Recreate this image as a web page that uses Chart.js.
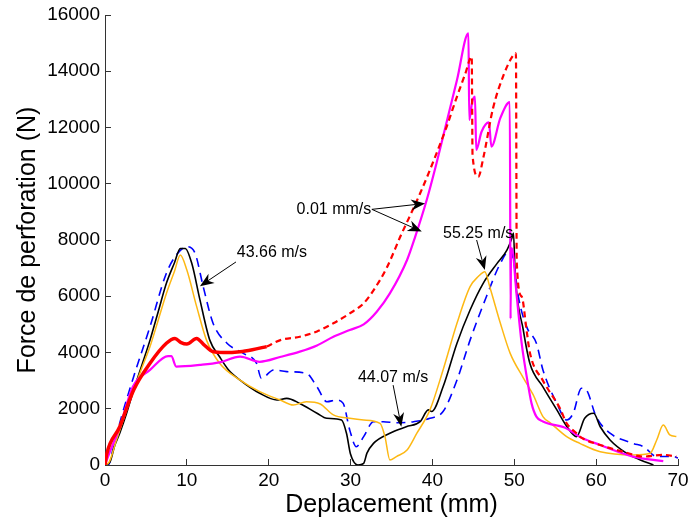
<!DOCTYPE html>
<html>
<head>
<meta charset="utf-8">
<script src="https://cdn.jsdelivr.net/npm/chart.js@4/dist/chart.umd.min.js"></script>
<style>
  html, body { margin: 0; padding: 0; background: #fff; }
  #wrap { width: 689px; height: 524px; }
</style>
</head>
<body>
<div id="wrap"><canvas id="myChart"></canvas></div>
<script>
// values (x in mm, y in N)
const xTicks = [0, 10, 20, 30, 40, 50, 60, 70];
const yTicks = [0, 2000, 4000, 6000, 8000, 10000, 12000, 14000, 16000];

const redSolidX = [0, 0.2, 1.8, 3.5, 5.5, 7.5, 8.55, 9.3, 10, 11.2, 12, 13.2, 14.5, 16.5, 18, 19.75];
const redSolidY = [0, 380, 1360, 2670, 3620, 4330, 4500, 4350, 4300, 4500, 4300, 4030, 4000, 4030, 4100, 4210];

const redDashX = [19.75, 21.5, 23.8, 25.9, 27.9, 29.9, 31.6, 33, 34.4, 36.2, 37.4, 38.5, 39.5, 40.5, 41.7,
  43, 44, 44.8, 44.9, 45.6, 46.2, 47.4, 48.7, 49.9, 50.2, 50.3, 50.9,
  51.5, 51.9, 53.5, 55.6, 56.4, 57.6, 58, 60.5, 63.3, 65.8, 68.2, 69.8];
const redDashY = [4210, 4450, 4560, 4750, 5040, 5390, 5750, 6300, 7000, 8200, 8950, 9660, 10350, 11080, 12000,
  13100, 13900, 14520, 11020, 10250, 10900, 12680, 13870, 14580, 14640, 7200, 5990,
  4800, 4000, 3000, 2000, 1480, 1130, 1010, 710, 470, 300, 360, 300];

const magentaX = [0, 0.5, 1.8, 3.4, 5.5, 7.7, 8.1, 8.7, 11.6, 14, 16.5, 18.9, 21.5, 23.8, 25.9,
  27.9, 29.9, 31.6, 33.2, 34.8, 36.9, 37.9, 39.3, 40.5, 41.7, 43, 44.4, 44.5, 44.85, 45.2,
  45.35, 46, 46.9, 47.2, 48.3, 49.45, 49.55, 49.6, 49.7, 50.3, 50.9, 51.6, 52.1, 52.7, 53.5,
  56.4, 58, 60.5, 64.5, 68.2];
const magentaY = [0, 400, 1350, 2780, 3380, 3870, 3870, 3500, 3560, 3650, 3850, 3670, 3850, 4030, 4250,
  4560, 4800, 5000, 5450, 6100, 7290, 8120, 9420, 10730, 12150, 13690, 15350, 12270, 12900, 13100,
  11200, 11850, 12180, 11320, 12340, 12900, 5200, 7700, 7700, 6000, 4330, 3000, 2200, 1720, 1550,
  1300, 1000, 710, 300, 140];

const yellowX = [0, 0.5, 1.4, 2.4, 3.5, 4.5, 5.5, 6.5, 7.5, 8.5, 9.2, 10, 11.2, 12.4, 14,
  16.5, 18.9, 21.4, 23, 24.6, 26.3, 27.9, 29.9, 31.6, 33.6, 34.2, 34.8, 35.6, 36.9, 38.1,
  39.7, 41.3, 43, 44.6, 45.6, 46.4, 47, 48.3, 49.5, 51.1, 52.3, 53.5, 54.4, 56.4, 58,
  60.5, 64.5, 66.6, 67.4, 68.2, 69, 69.8];
const yellowY = [0, 100, 890, 1750, 2670, 3450, 4210, 5150, 6100, 6900, 7470, 6930, 5630, 4440, 3620,
  3020, 2610, 2310, 2130, 2250, 2170, 1780, 1660, 1600, 1480, 1010, 180, 300, 530, 1130,
  1960, 3380, 5040, 6340, 6700, 6870, 6340, 5040, 3970, 3100, 2500, 1720, 1500, 1010, 770,
  470, 360, 420, 890, 1420, 1070, 1010];

const blackX = [0, 0.6, 1.2, 1.8, 2.6, 3.5, 4.5, 5.5, 6.5, 7.5, 8.5, 9.2, 9.8, 10.6, 11.6,
  12.8, 14, 15.1, 16.5, 18.9, 21, 22.2, 23.8, 25.9, 27.1, 28.9, 29.5, 30.0, 30.9, 31.6,
  32, 32.8, 34.8, 36.8, 38.5, 39.5, 39.9, 41.3, 43, 44.6, 46.2, 47.9, 49.1, 49.7, 49.9,
  50.1, 51.1, 51.9, 53.5, 55.2, 56.4, 57.6, 58.6, 59.7, 60.5, 61.7, 63.7, 65.4, 67];
const blackY = [0, 100, 700, 1130, 1800, 2670, 3550, 4440, 5450, 6460, 7200, 7700, 7700, 7170, 5870,
  4440, 3850, 3380, 3020, 2550, 2310, 2370, 2190, 1840, 1660, 1600, 1130, 380, 0, 60,
  420, 770, 1130, 1360, 1540, 1960, 1900, 2780, 4330, 5510, 6460, 7170, 7640, 8060, 8250,
  6820, 4800, 3620, 2780, 1960, 1380, 1010, 1660, 1840, 1360, 890, 420, 180, 0];

const blueX = [0, 0.4, 1, 2, 3.5, 5.5, 7.5, 8.8, 10, 11, 12, 13.2, 14.9, 16.9, 18.5,
  19.1, 20.6, 22.2, 24.6, 25.9, 27.1, 28.3, 29.1, 29.9, 30.7, 31.6, 32.8, 34, 35.6, 37.7,
  39.7, 41.3, 43, 44.6, 46.6, 48.3, 49.5, 49.9, 50.5, 51.5, 52.7, 53.5, 55.2, 56.4, 57.2,
  58.2, 58.8, 60, 61.7, 64.5, 65.8, 67.4, 69.4, 70];
const blueY = [0, 0, 600, 1700, 3140, 4920, 6820, 7500, 7760, 7530, 6340, 5040, 4330, 3970, 3620,
  3080, 3380, 3320, 3260, 2780, 2250, 2310, 2190, 1240, 650, 1010, 1540, 1540, 1500, 1540,
  1660, 1900, 3020, 4440, 5990, 7170, 7640, 7290, 5990, 4920, 4330, 3380, 2190, 1600, 1840,
  2730, 2670, 1720, 1130, 770, 650, 300, 300, 250];

// text labels with arrows, in data units
const notes = [
  { text: '43.66 m/s', x: 16.1, y: 7540, arrows: [[16.0, 7220, 11.6, 6360]] },
  { text: '0.01 mm/s', x: 23.4, y: 9070, arrows: [[32.6, 9090, 39.1, 9300], [32.6, 9090, 38.7, 8300]] },
  { text: '44.07 m/s', x: 30.9, y: 3110, arrows: [[35.2, 2840, 36.2, 1360]] },
  { text: '55.25 m/s', x: 41.3, y: 8230, arrows: [[45.4, 8000, 46.4, 6930]] }
];

const FONT = '"Liberation Sans", Arial, sans-serif';

function pts(xs, ys) {
  return xs.map((x, i) => ({ x: x, y: ys[i] }));
}

function line(xs, ys, color, width, dash) {
  return {
    data: pts(xs, ys),
    borderColor: color,
    backgroundColor: color,
    borderWidth: width,
    borderDash: dash || [],
    pointRadius: 0,
    showLine: true,
    fill: false,
    cubicInterpolationMode: 'monotone'
  };
}

const notesPlugin = {
  id: 'notes',
  afterDatasetsDraw(chart) {
    const ctx = chart.ctx;
    const sx = chart.scales.x, sy = chart.scales.y;
    ctx.save();
    ctx.fillStyle = '#000';
    ctx.strokeStyle = '#000';
    ctx.font = '16px ' + FONT;
    ctx.textBaseline = 'middle';
    ctx.textAlign = 'left';
    notes.forEach(n => {
      ctx.fillText(n.text, sx.getPixelForValue(n.x), sy.getPixelForValue(n.y));
      n.arrows.forEach(a => {
        const x1 = sx.getPixelForValue(a[0]), y1 = sy.getPixelForValue(a[1]);
        const x2 = sx.getPixelForValue(a[2]), y2 = sy.getPixelForValue(a[3]);
        const ang = Math.atan2(y2 - y1, x2 - x1);
        const L = 14, W = 5.5;
        const c = Math.cos(ang), s = Math.sin(ang);
        ctx.lineWidth = 1;
        ctx.beginPath();
        ctx.moveTo(x1, y1);
        ctx.lineTo(x2 - c * L * 0.7, y2 - s * L * 0.7);
        ctx.stroke();
        const bx = x2 - c * L, by = y2 - s * L;
        const nx = x2 - c * L * 0.7, ny = y2 - s * L * 0.7;
        ctx.beginPath();
        ctx.moveTo(x2, y2);
        ctx.lineTo(bx - s * W, by + c * W);
        ctx.lineTo(nx, ny);
        ctx.lineTo(bx + s * W, by - c * W);
        ctx.closePath();
        ctx.fill();
      });
    });
    ctx.restore();
  }
};

const ctx = document.getElementById('myChart').getContext('2d');

new Chart(ctx, {
  type: 'scatter',
  data: {
    datasets: [
      line(redSolidX, redSolidY, '#FF0000', 3.5),
      line(redDashX, redDashY, '#FF0000', 2.2, [6, 4]),
      line(magentaX, magentaY, '#FF00FF', 2.2),
      line(yellowX, yellowY, '#FDB813', 1.5),
      line(blackX, blackY, '#000000', 1.6),
      line(blueX, blueY, '#0000FF', 1.6, [9, 6])
    ]
  },
  options: {
    responsive: true,
    maintainAspectRatio: false,
    animation: false,
    layout: { padding: { left: 0, top: 15, right: 11, bottom: 0 } },
    plugins: {
      legend: { display: false },
      tooltip: { enabled: false }
    },
    scales: {
      x: {
        type: 'linear',
        min: 0,
        max: 70,
        afterBuildTicks: s => { s.ticks = xTicks.map(v => ({ value: v })); },
        afterFit: s => { s.height = 59; s.paddingLeft = 0; s.paddingRight = 0; },
        grid: { drawOnChartArea: false, tickLength: -6, color: '#333' },
        border: { color: '#333', width: 1 },
        ticks: { color: '#000', padding: 10, font: { family: FONT, size: 19 }, maxRotation: 0,
                 callback: v => String(v) },
        title: { display: true, text: 'Deplacement (mm)', color: '#000',
                 font: { family: FONT, size: 25 }, padding: { top: 0, bottom: 4 } }
      },
      y: {
        type: 'linear',
        min: 0,
        max: 16000,
        afterBuildTicks: s => { s.ticks = yTicks.map(v => ({ value: v })); },
        afterFit: s => { s.width = 105; s.paddingTop = 0; s.paddingBottom = 0; },
        grid: { drawOnChartArea: false, tickLength: -6, color: '#333' },
        border: { color: '#333', width: 1 },
        ticks: { color: '#000', padding: 11, font: { family: FONT, size: 19 },
                 callback: v => String(v) },
        title: { display: true, text: 'Force de perforation (N)', color: '#000',
                 font: { family: FONT, size: 25 }, padding: { top: 13, bottom: 0 } }
      }
    }
  },
  plugins: [notesPlugin]
});
</script>
</body>
</html>
